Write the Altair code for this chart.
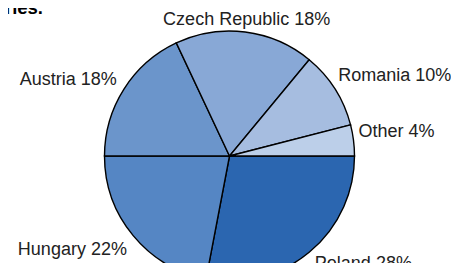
import math
import altair as alt
import pandas as pd

countries = ["Poland", "Hungary", "Austria", "Czech Republic", "Romania", "Other"]
shares = [28, 22, 18, 18, 10, 4]
colors = ["#2b66b0", "#5586c4", "#6b95cb", "#88a8d6", "#a6bde0", "#bccfe9"]

df = pd.DataFrame({"country": countries, "share": shares, "idx": list(range(len(countries)))})

theta_scale = alt.Scale(domain=[0, 100], range=[math.pi / 2, math.pi / 2 + 2 * math.pi])
FONT = "Liberation Sans"

base = alt.Chart(df).transform_window(
    cum="sum(share)", sort=[alt.SortField("idx")], frame=[None, 0]
).transform_calculate(
    start="datum.cum - datum.share",
    mid="datum.cum - datum.share / 2",
    label="datum.country + ' ' + datum.share + '%'",
    side="datum.mid > 80 ? 'tr' : (datum.mid > 70 ? 'top' : (datum.mid > 50 ? 'tl' : (datum.mid >= 25 ? 'bl' : 'br')))",
)

arcs = base.mark_arc(radius=125, stroke="black", strokeWidth=1.4).encode(
    theta=alt.Theta("start:Q", scale=theta_scale),
    theta2="cum:Q",
    color=alt.Color("country:N", scale=alt.Scale(domain=countries, range=colors), legend=None),
)

def labels(side, align, dx=0, dy=0):
    return base.transform_filter(alt.datum.side == side).mark_text(
        radius=137, align=align, baseline="middle", fontSize=18, font=FONT,
        color="#222222", dx=dx, dy=dy,
    ).encode(theta=alt.Theta("mid:Q", scale=theta_scale), text="label:N")

chart = alt.layer(
    arcs,
    labels("tr", "left", -7, -7),
    labels("top", "center"),
    labels("tl", "right", 3, -3),
    labels("bl", "right", 3, 7),
    labels("br", "left", -2, 2),
).properties(
    width=443,
    height=214,
    padding={"left": 0, "top": 41, "right": 0, "bottom": 0},
    autosize=alt.AutoSizeParams(type="none"),
    title=alt.TitleParams(
        "Production shares by countries.",
        anchor="start", align="right", baseline="top", dx=35, dy=6, offset=0,
        font=FONT, fontSize=18.5, fontWeight="bold", color="#000000",
    ),
).configure_view(stroke=None)

chart.save("out.html", embed_options={"renderer": "svg", "actions": False})
